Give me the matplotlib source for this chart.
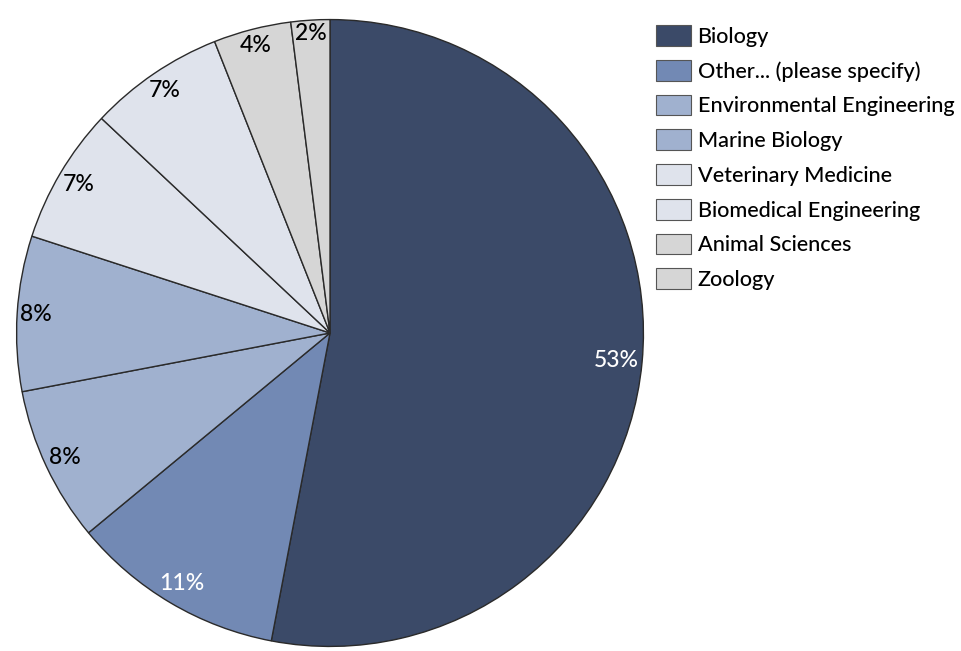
import numpy as np
import matplotlib.pyplot as plt
from matplotlib.patches import Patch

categories = ['Biology', 'Other... (please specify)', 'Environmental Engineering',
              'Marine Biology', 'Veterinary Medicine', 'Biomedical Engineering',
              'Animal Sciences', 'Zoology']
shares = [53, 11, 8, 8, 7, 7, 4, 2]
colors = ['#3b4a68', '#7289b4', '#a0b1cf', '#a0b1cf',
          '#dfe3ec', '#dfe3ec', '#d6d6d6', '#d6d6d6']
text_colors = ['white', 'white', 'black', 'black', 'black', 'black', 'black', 'black']

plt.rcParams['font.family'] = ['Lato', 'DejaVu Sans']

fig = plt.figure(figsize=(9.62, 6.51), dpi=100)
ax = fig.add_axes([15 / 962, 3 / 651, 630 / 962, 630 / 651])

wedges, texts, autotexts = ax.pie(
    shares, colors=colors, startangle=90, counterclock=False,
    autopct='%1.0f%%', pctdistance=0.88,
    wedgeprops=dict(edgecolor='#2a2a2a', linewidth=1.0),
    textprops=dict(fontsize=16.5, fontweight='medium'))
ax.set_xlim(-1.005, 1.005)
ax.set_ylim(-1.005, 1.005)
ax.set_aspect('equal')

for t, c in zip(autotexts, text_colors):
    t.set_color(c)

# place labels "inside end": push each label outward until it touches the rim
fig.canvas.draw()
renderer = fig.canvas.get_renderer()
rad_px = ax.transData.transform((1, 0))[0] - ax.transData.transform((0, 0))[0]
for w, t in zip(wedges, autotexts):
    ang = np.deg2rad((w.theta1 + w.theta2) / 2)
    bb = t.get_window_extent(renderer)
    hw, hh = bb.width / 2, bb.height / 2
    off = abs(np.cos(ang)) * hw + abs(np.sin(ang)) * hh + 2
    r = (rad_px - off) / rad_px
    t.set_position((r * np.cos(ang), r * np.sin(ang)))

handles = [Patch(facecolor=c, edgecolor='#555555', linewidth=0.8) for c in colors]
fig.legend(handles, categories, loc='upper left',
           bbox_to_anchor=(656 / 962, 1 - 25 / 651), frameon=False,
           prop=dict(size=15.6, weight='medium'), handlelength=1.6, handleheight=1.1,
           labelspacing=0.6, handletextpad=0.32, borderpad=0, borderaxespad=0)

fig.savefig('out.png', dpi=100)
